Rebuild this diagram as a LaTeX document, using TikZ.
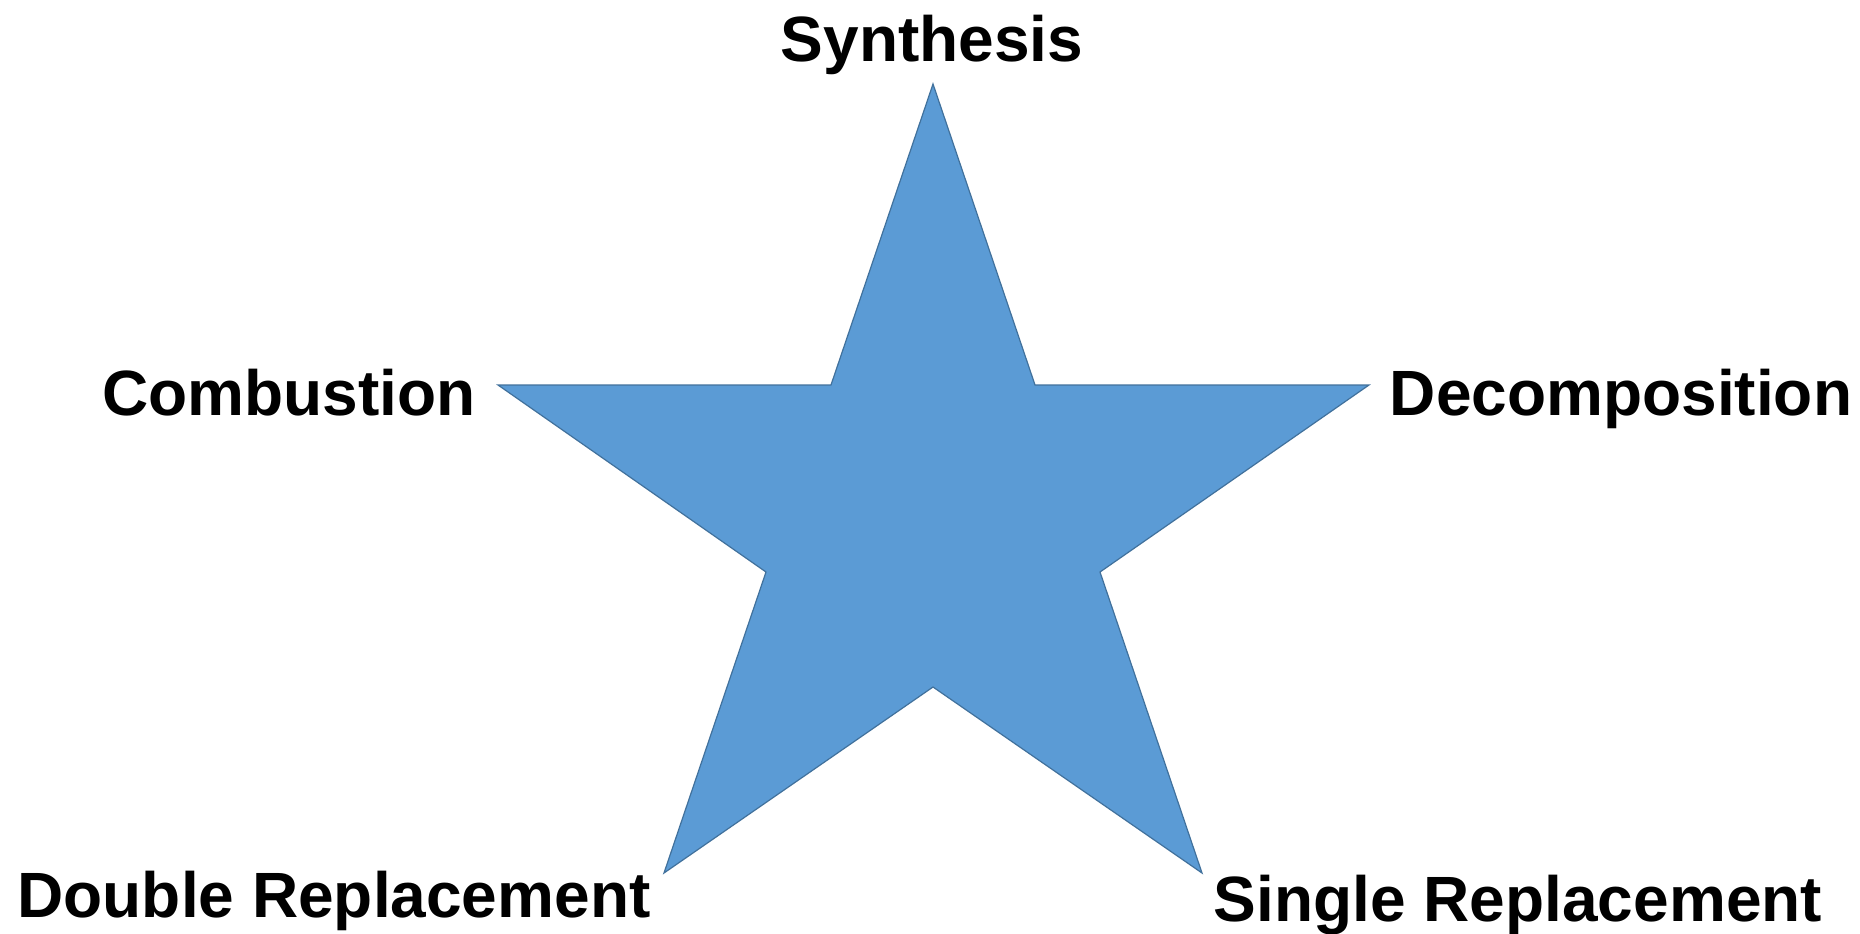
\documentclass[tikz,border=0pt]{standalone}
\usepackage{fontspec}
\setmainfont{Liberation Sans}
\definecolor{starfill}{HTML}{5B9BD5}
\definecolor{staredge}{HTML}{41719C}
\begin{document}
\begin{tikzpicture}[x=1pt,y=-1pt,
  lbl/.style={font=\fontsize{64}{72}\selectfont\bfseries, inner sep=0pt, anchor=base},
  starshape/.style={fill=starfill, draw=staredge, line width=1.2pt, line join=miter}]
\useasboundingbox (0,0) rectangle (1860,934);
\fill[white] (0,0) rectangle (1860,934);
\coordinate (t) at (933,84);
\coordinate (ri) at (1035,385);
\coordinate (ro) at (1369,385);
\coordinate (rl) at (1100,572);
\coordinate (br) at (1202,873);
\coordinate (bi) at (933,687);
\coordinate (bl) at (664,873);
\coordinate (ll) at (766,572);
\coordinate (lo) at (498,385);
\coordinate (li) at (831,385);
\draw[starshape] (t) -- (ri) -- (ro) -- (rl) -- (br) -- (bi) -- (bl) -- (ll) -- (lo) -- (li) -- cycle;
\node[lbl] (syn) at (932,62) {Synthesis};
\node[lbl] (com) at (289,415) {Combustion};
\node[lbl] (dec) at (1621,415) {Decomposition};
\node[lbl] (dbl) at (334,917) {Double Replacement};
\node[lbl] (sgl) at (1518,921) {Single Replacement};
\end{tikzpicture}
\end{document}
